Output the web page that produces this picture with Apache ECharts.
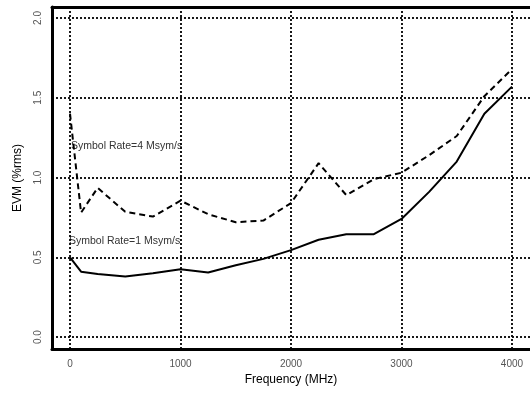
<!DOCTYPE html>
<html><head><meta charset="utf-8">
<script src="https://cdn.jsdelivr.net/npm/echarts@6/dist/echarts.min.js"></script>
<style>html,body{margin:0;padding:0;background:#fff}#c{width:530px;height:394px}</style>
</head><body><div id="c"></div>
<script>
var freq = [0, 100, 250, 500, 750, 1000, 1250, 1500, 1750, 2000, 2250, 2500, 2750, 3000, 3250, 3500, 3750, 4000];
var evm4 = [1.40, 0.78, 0.935, 0.785, 0.755, 0.855, 0.77, 0.72, 0.73, 0.84, 1.09, 0.89, 0.99, 1.03, 1.14, 1.26, 1.51, 1.68];
var evm1 = [0.50, 0.41, 0.395, 0.38, 0.40, 0.425, 0.405, 0.45, 0.49, 0.545, 0.61, 0.645, 0.645, 0.74, 0.91, 1.10, 1.40, 1.57];
var xTicks = [0, 1000, 2000, 3000, 4000];
var yTicks = [0.0, 0.5, 1.0, 1.5, 2.0];
var labels = ["Symbol Rate=4 Msym/s", "Symbol Rate=1 Msym/s"];

function pairs(xs, ys){ return xs.map(function(x,i){return [x, ys[i]];}); }
var font = 'Liberation Sans, Arial, Helvetica, sans-serif';
var dotStyle = {color:'#000', width:1.8, type:[2,2]};
var frameLine = {show:true, onZero:false, lineStyle:{color:'#000', width:3}};
var gridLines = xTicks.map(function(v){return {xAxis:v};}).concat(yTicks.map(function(v){return {yAxis:v};}));

var chart = echarts.init(document.getElementById('c'));
chart.setOption({
  animation:false,
  backgroundColor:'#fff',
  grid:{left:52, top:7, right:0, bottom:45, show:false, containLabel:false},
  xAxis:[{type:'value', min:-163, max:4163, position:'bottom',
    axisLine:frameLine, axisTick:{show:false}, splitLine:{show:false},
    axisLabel:{customValues:xTicks, color:'#555', fontSize:10, fontFamily:font, margin:10,
      formatter:function(v){return String(v);}},
    name:'Frequency (MHz)', nameLocation:'middle', nameGap:24,
    nameTextStyle:{color:'#000', fontSize:12, fontFamily:font}},
   {type:'value', min:-163, max:4163, position:'top',
    axisLine:frameLine, axisTick:{show:false}, splitLine:{show:false}, axisLabel:{show:false}}],
  yAxis:{type:'value', min:-0.075, max:2.069,
    axisLine:frameLine, axisTick:{show:false}, splitLine:{show:false},
    axisLabel:{customValues:yTicks, rotate:90, color:'#555', fontSize:10, fontFamily:font, margin:9,
      formatter:function(v){return v.toFixed(1);}},
    name:'EVM (%rms)', nameLocation:'middle', nameGap:28,
    nameTextStyle:{color:'#000', fontSize:12, fontFamily:font}},
  series:[
    {type:'line', data:[], silent:true,
      markLine:{silent:true, symbol:'none', label:{show:false}, lineStyle:dotStyle, data:gridLines, animation:false}},
    {type:'line', data:pairs(freq, evm4), showSymbol:false, lineStyle:{color:'#000', width:2, type:[6,4]}, z:3},
    {type:'line', data:pairs(freq, evm1), showSymbol:false, lineStyle:{color:'#000', width:2}, z:3}
  ],
  graphic:[
    {type:'text', left:71, top:141, style:{text:labels[0], fill:'#333', font:'10.5px '+font}},
    {type:'text', left:69, top:236, style:{text:labels[1], fill:'#333', font:'10.5px '+font}}
  ]
});
</script></body></html>
